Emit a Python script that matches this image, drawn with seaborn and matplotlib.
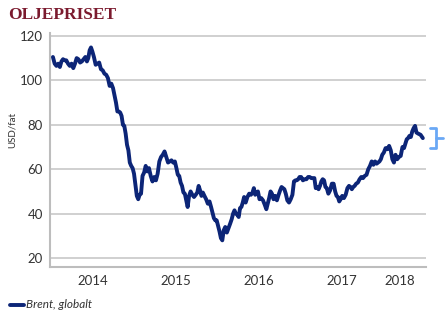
import matplotlib
matplotlib.use("Agg")
import matplotlib.pyplot as plt
import seaborn as sns
import pandas as pd
from matplotlib.lines import Line2D

# ---------------- data (approx. weekly values, USD/fat) -------------
years = [2014, 2015, 2016, 2017, 2018]

brent_2014 = [
    [110.5, 107.5, 106.5, 107.5],        # Jan
    [106, 108.5, 109.5, 109],            # Feb
    [109, 107.5, 106.5, 107.5],          # Mar
    [105.5, 107.5, 110, 109.5],          # Apr
    [108, 108.5, 109.5, 110.5],          # May
    [108.5, 110, 113.5, 114.8, 113],     # Jun
    [110.5, 107, 107.5, 108],            # Jul
    [105, 104.5, 103, 102.5],            # Aug
    [101, 97.5, 98.5, 96.5],             # Sep
    [93, 90, 86, 86, 85.5],              # Oct
    [84, 80, 79.5, 76, 71],              # Nov
    [68.5, 63, 61.5, 60.5, 58],          # Dec
]
brent_2015 = [
    [53, 48, 46.5, 48.5, 49],
    [57, 58.5, 61.5, 59],
    [60.5, 57, 54.5, 56.5],
    [55, 58, 63.5, 65.5],
    [66.5, 68, 65.5, 63],
    [63.5, 64, 63, 63.5],
    [60.5, 57.5, 57, 54, 52.5],
    [49.5, 49, 46, 43, 48],
    [50, 48.5, 47.5, 48.5],
    [49.5, 52.5, 50.5, 48, 49.5],
    [48, 46.5, 44.5, 45.5],
    [43, 40.5, 38, 37, 37],
]
brent_2016 = [
    [34.5, 32, 29, 28, 32.5],
    [34, 31.5, 33.5, 35.5],
    [37.5, 40, 41.5, 40, 39.5],
    [38.5, 42.5, 43, 45, 47.5],
    [45, 47.5, 49, 48.5],
    [49.5, 51.5, 48.5, 49.5, 50],
    [46.5, 47, 46, 44],
    [42, 44.5, 47, 50, 49],
    [46.5, 48, 46, 48.5],
    [50.5, 52, 51.5, 51, 49],
    [46, 45, 46.5, 48.5],
    [54.5, 55, 55, 55.5, 56.5],
]
brent_2017 = [
    [56.5, 55, 55.5, 55.5],
    [56.5, 56.5, 56, 56],
    [56, 51.5, 52, 51, 52.5],
    [54.5, 55.5, 55, 52, 51.5],
    [49, 50.5, 53.5, 53.5],
    [50, 48, 47.5, 45.5, 46.5],
    [48, 47, 48.5, 51.5],
    [52.5, 52, 51, 52, 52.5],
    [53.5, 54, 55.5, 56.5],
    [56, 57, 57.5, 60],
    [61.5, 63.5, 62, 63.5],
    [62.5, 63, 63.5, 64.5, 66.5],
]
brent_2018 = [
    [67.5, 69.5, 69, 70.5],
    [68.5, 64.5, 63, 66.5],
    [64.5, 65.5, 66, 70],
    [69.5, 71.5, 73.5, 74, 75],
    [74.5, 77, 78.5, 79.5, 76.5],
    [76, 75.5, 74],
]
brent_by_year = [brent_2014, brent_2015, brent_2016, brent_2017, brent_2018]

series_name = "Brent, globalt"
year_labels = ["2014", "2015", "2016", "2017", "2018"]
y_ticks = [20, 40, 60, 80, 100, 120]
title = "OLJEPRISET"
y_label = "USD/fat"

# ---------------- build table -------------
rows = []
for yr, months in zip(years, brent_by_year):
    for m, vals in enumerate(months, start=1):
        start = pd.Timestamp(yr, m, 1)
        ndays = start.days_in_month
        k = len(vals)
        for i, v in enumerate(vals):
            rows.append((start + pd.Timedelta(days=(i + 0.5) * ndays / k), v))
df = pd.DataFrame(rows, columns=["date", "price"])

# ---------------- style -------------
sns.set_style("white")
plt.rcParams["font.family"] = ["Lato", "DejaVu Sans"]

navy = "#0c2577"
grid_c = "#c8c8c8"
text_c = "#333333"

W, H = 446, 326
fig = plt.figure(figsize=(W / 100, H / 100), dpi=100)
ax = fig.add_axes([50 / W, 1 - 267 / H, 376 / W, 234 / H])

sns.lineplot(data=df, x="date", y="price", ax=ax, color=navy, lw=2.8,
             legend=False, solid_joinstyle="round", solid_capstyle="round")

ax.set_ylim(16, 121.3)
ax.set_xlim(pd.Timestamp("2013-12-23"), pd.Timestamp("2018-07-10"))

ax.set_yticks(y_ticks)
ax.set_yticklabels([str(t) for t in y_ticks])
ax.yaxis.grid(True, color=grid_c, lw=1.2)
ax.xaxis.grid(False)
ax.tick_params(axis="y", length=0, pad=5, labelsize=9.5, labelcolor=text_c)

# year boundaries as ticks, labels centred between
bounds = [pd.Timestamp(f"{y}-01-01") for y in years]
ax.set_xticks(bounds)
ax.set_xticklabels([""] * len(bounds))
ax.tick_params(axis="x", which="major", length=4, width=1.2, color="#bdbdbd", direction="out")
label_pos = [pd.Timestamp(f"{y}-07-02") for y in years[:-1]] + [pd.Timestamp("2018-03-15")]
ax.set_xticks(label_pos, minor=True)
ax.set_xticklabels(year_labels, minor=True)
ax.tick_params(axis="x", which="minor", length=0, pad=6, labelsize=9.5, labelcolor=text_c)

ax.set_xlabel("")
ax.set_ylabel("")
for s in ["top", "right"]:
    ax.spines[s].set_visible(False)
for s in ["left", "bottom"]:
    ax.spines[s].set_color("#bdbdbd")
    ax.spines[s].set_linewidth(1.5)

# texts
fig.text(8 / W, 1 - 15 / H, title, family="Liberation Serif", weight="bold",
         size=12.5, color="#7b1a2e", va="center", ha="left")
fig.text(12 / W, 1 - 130 / H, y_label, rotation=90, size=7, color=text_c,
         va="center", ha="center")

# legend
fig.add_artist(Line2D([10 / W, 24 / W], [1 - 305 / H, 1 - 305 / H], color=navy,
                      lw=2.8, transform=fig.transFigure))
fig.text(26 / W, 1 - 305 / H, series_name, style="italic", size=8.5, color=text_c,
         va="center", ha="left")

# bracket on the right
bc = "#6aa8f5"
bx = [430 / W, 436 / W, 436 / W, 430 / W]
by = [1 - 128 / H, 1 - 128 / H, 1 - 148 / H, 1 - 148 / H]
fig.add_artist(Line2D(bx, by, color=bc, lw=2, transform=fig.transFigure))
fig.add_artist(Line2D([436 / W, 443 / W], [1 - 138 / H, 1 - 138 / H], color=bc, lw=2,
                      transform=fig.transFigure))

fig.savefig("out.png", dpi=100)
